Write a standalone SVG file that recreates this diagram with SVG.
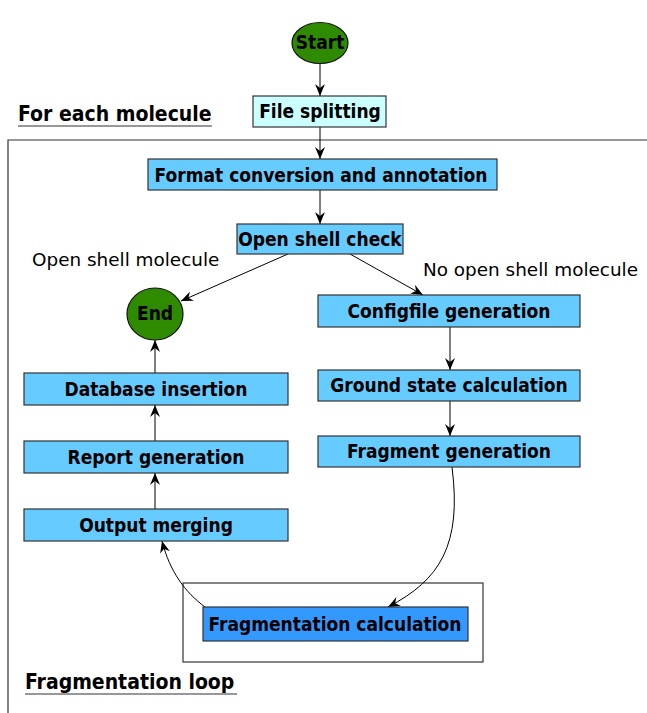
<svg xmlns="http://www.w3.org/2000/svg" width="647" height="713" viewBox="0 0 647 713">
<defs>
<style>
.box{fill:#66ccff;stroke:#333;stroke-width:1.2}
.lbl{font-family:"DejaVu Sans Condensed","DejaVu Sans",sans-serif;font-weight:bold;font-size:19px;fill:#000;text-anchor:middle}
.note{font-family:"DejaVu Sans",sans-serif;font-size:18.4px;fill:#000}
.title{font-family:"DejaVu Sans Condensed","DejaVu Sans",sans-serif;font-weight:bold;font-size:21px;fill:#000}
.edge{fill:none;stroke:#000;stroke-width:1}
.frame{fill:none;stroke:#333;stroke-width:1.2}
.circ{fill:#2e8b00;stroke:#111;stroke-width:1.2}
</style>
<marker id="arr" viewBox="0 0 12 10" refX="12" refY="5" markerWidth="12" markerHeight="10" markerUnits="userSpaceOnUse" orient="auto">
<path d="M0,0 L12,5 L0,10 L4,5 Z" fill="#000"/>
</marker>
</defs>
<rect width="647" height="713" fill="#fff"/>
<g id="frames">
<path class="frame" d="M8,713 L8,140 L647,140"/>
<rect class="frame" x="183" y="583" width="300" height="79"/>
<text class="title" x="18" y="121">For each molecule</text>
<line x1="18" y1="126" x2="212" y2="126" stroke="#333" stroke-width="1.2"/>
<text class="title" x="25" y="689">Fragmentation loop</text>
<line x1="25" y1="694" x2="237" y2="694" stroke="#333" stroke-width="1.2"/>
</g>
<g id="edges">
<line class="edge" x1="320" y1="64" x2="320" y2="96" marker-end="url(#arr)"/>
<line class="edge" x1="320" y1="127" x2="320" y2="159" marker-end="url(#arr)"/>
<line class="edge" x1="320" y1="190" x2="320" y2="224" marker-end="url(#arr)"/>
<line class="edge" x1="288" y1="254" x2="181" y2="301" marker-end="url(#arr)"/>
<line class="edge" x1="350" y1="254" x2="423" y2="295" marker-end="url(#arr)"/>
<line class="edge" x1="450" y1="327" x2="450" y2="370" marker-end="url(#arr)"/>
<line class="edge" x1="450" y1="401" x2="450" y2="436" marker-end="url(#arr)"/>
<path class="edge" d="M452,467 C462,545 440,580 388,607" marker-end="url(#arr)"/>
<path class="edge" d="M205,607 C185,592 170,572 162,541" marker-end="url(#arr)"/>
<line class="edge" x1="155" y1="509" x2="155" y2="473" marker-end="url(#arr)"/>
<line class="edge" x1="155" y1="441" x2="155" y2="405" marker-end="url(#arr)"/>
<line class="edge" x1="155" y1="373" x2="155" y2="340" marker-end="url(#arr)"/>
</g>
<text class="note" x="32" y="266">Open shell molecule</text>
<text class="note" x="423" y="276">No open shell molecule</text>
<g id="start"><ellipse class="circ" cx="320" cy="43" rx="28" ry="20.5"/><text class="lbl" x="320" y="49">Start</text></g>
<g id="file-splitting"><rect x="253" y="96" width="133" height="31" fill="#ccffff" stroke="#333" stroke-width="1.2"/><text class="lbl" x="320" y="118">File splitting</text></g>
<g id="format-conversion"><rect class="box" x="148" y="159" width="349" height="31"/><text class="lbl" x="321" y="182">Format conversion and annotation</text></g>
<g id="open-shell-check"><rect class="box" x="237" y="224" width="166" height="30"/><text class="lbl" x="320" y="246">Open shell check</text></g>
<g id="end"><ellipse class="circ" cx="155" cy="314" rx="28" ry="26"/><text class="lbl" x="155" y="320">End</text></g>
<g id="configfile-generation"><rect class="box" x="318" y="295" width="262" height="32"/><text class="lbl" x="449" y="318">Configfile generation</text></g>
<g id="ground-state"><rect class="box" x="318" y="370" width="262" height="31"/><text class="lbl" x="449" y="392">Ground state calculation</text></g>
<g id="fragment-generation"><rect class="box" x="318" y="436" width="262" height="31"/><text class="lbl" x="449" y="458">Fragment generation</text></g>
<g id="database-insertion"><rect class="box" x="24" y="373" width="264" height="32"/><text class="lbl" x="156" y="396">Database insertion</text></g>
<g id="report-generation"><rect class="box" x="24" y="441" width="264" height="32"/><text class="lbl" x="156" y="464">Report generation</text></g>
<g id="output-merging"><rect class="box" x="24" y="509" width="264" height="32"/><text class="lbl" x="156" y="532">Output merging</text></g>
<g id="fragmentation-calculation"><rect x="203" y="607" width="265" height="34" fill="#3399ff" stroke="#333" stroke-width="1.2"/><text class="lbl" x="335" y="631">Fragmentation calculation</text></g>
</svg>
